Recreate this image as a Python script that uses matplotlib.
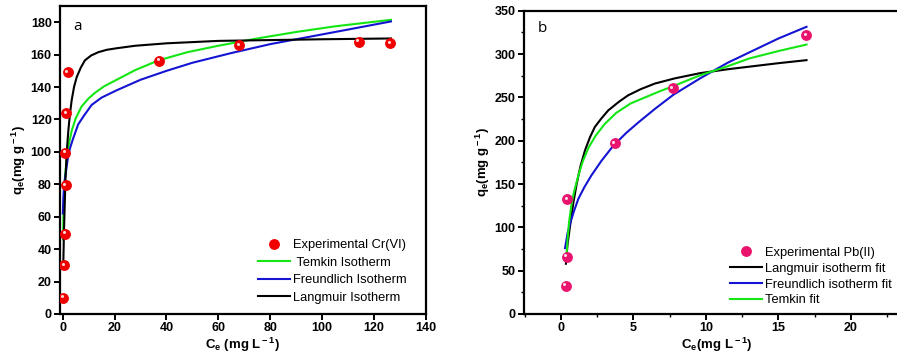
import matplotlib
matplotlib.use("Agg")
import matplotlib.pyplot as plt
from matplotlib.ticker import MultipleLocator
from matplotlib.transforms import offset_copy

plt.rcParams['font.family'] = ['Liberation Sans', 'DejaVu Sans']
plt.rcParams['mathtext.fontset'] = 'custom'
plt.rcParams['mathtext.rm'] = 'Liberation Sans:bold'
plt.rcParams['mathtext.it'] = 'Liberation Sans:bold'
plt.rcParams['mathtext.bf'] = 'Liberation Sans:bold'

# ---- panel a: Cr(VI) ----
cr_ce = [0.3, 0.5, 1.0, 1.2, 1.1, 1.4, 1.9, 37.3, 68.1, 114.1, 126.3]
cr_qe = [10, 30, 49.5, 79.5, 99.5, 124, 149, 156.2, 165.8, 168.1, 167.1]

cr_temkin_c = [0.15, 0.3, 0.6, 1.0, 1.55, 2.3, 3.5, 5, 7.3, 10, 12.5, 16, 20.8,
               28, 37, 48, 60, 75, 90, 105, 126.5]
cr_temkin_q = [46, 60, 75, 86, 95, 104, 113, 120.5, 128, 133, 136.5, 140.5, 144.5,
               150.5, 156.5, 161.5, 165.5, 170, 174, 177.5, 181.5]

cr_freund_c = [0.1, 0.3, 0.6, 1.15, 2, 2.8, 4, 6, 8.5, 11.2, 15, 20.8, 30, 40,
               50, 65, 80, 95, 110, 126.5]
cr_freund_q = [62, 72, 80, 86, 96, 102, 108, 117, 123, 129, 133.5, 138, 144.5, 150,
               155, 161, 166.5, 171, 175.5, 180.5]

cr_lang_c = [0.25, 0.45, 0.65, 0.9, 1.15, 1.6, 2.2, 2.8, 3.5, 4.4, 5.4, 7, 8.6,
             11, 13.7, 17, 21, 28, 40, 60, 80, 100, 126.5]
cr_lang_q = [30, 45, 58, 72, 85, 100, 113, 123, 132, 140, 146, 152, 156.5,
             159.5, 161.5, 163, 164, 165.5, 167, 168.5, 169, 169.5, 170]

# ---- panel b: Pb(II) ----
pb_ce = [0.32, 0.39, 0.44, 3.7, 7.7, 16.9]
pb_qe = [32.7, 66.2, 132.3, 197, 260.4, 321.6]

pb_lang_c = [0.34, 0.45, 0.62, 0.85, 1.08, 1.35, 1.66, 2.0, 2.34, 2.8, 3.26, 4.0,
             4.64, 5.5, 6.48, 7.86, 9.6, 11.5, 13, 15, 16.94]
pb_lang_q = [58, 80, 101, 128, 150, 171, 189, 204, 216, 226, 235, 245,
             252.5, 259.5, 266, 272, 278, 282.5, 285.5, 289.5, 293]

pb_freund_c = [0.28, 0.45, 0.62, 0.9, 1.2, 1.6, 2.1, 2.8, 3.6, 4.5, 5.33, 6.5,
               7.75, 9.6, 11.5, 13, 15, 16.94]
pb_freund_q = [76, 93, 104, 119, 133, 146, 160, 177, 194, 209, 221, 237,
               253, 272, 290, 302, 318, 331.5]

pb_temkin_c = [0.36, 0.45, 0.55, 0.7, 0.9, 1.2, 1.5, 1.9, 2.4, 3.0, 3.8, 4.8,
               5.8, 6.8, 7.75, 8.7, 9.6, 11.5, 13, 15, 16.94]
pb_temkin_q = [62, 85, 105, 124, 141, 160, 176, 192, 206, 219, 232, 243,
               250, 257, 263, 269.5, 275.5, 286, 295, 303.5, 311]

GREEN = '#14e614'
BLUE = '#1414d2'

fig = plt.figure(figsize=(8.97, 3.64), dpi=100)
ax1 = fig.add_axes([0.0669, 0.1374, 0.408, 0.846])
ax2 = fig.add_axes([0.5842, 0.1374, 0.429, 0.833])


def balls(ax, x, y, color, label):
    ax.plot(x, y, 'o', ms=6.8, color=color, mec=color, label=label, zorder=4)
    hl = offset_copy(ax.transData, fig=fig, x=-1.0, y=1.0, units='points')
    ax.plot(x, y, 'o', ms=2.2, color='white', mec='none', alpha=0.85,
            transform=hl, zorder=5)


def style(ax):
    for s in ax.spines.values():
        s.set_linewidth(1.6)
    ax.tick_params(which='major', direction='out', length=4, width=1.4,
                   labelsize=9, pad=2)
    ax.tick_params(which='minor', direction='out', length=2.5, width=1.0)
    for lab in ax.get_xticklabels() + ax.get_yticklabels():
        lab.set_fontweight('bold')


legend_font = {'family': 'Liberation Sans', 'size': 9.3}

# panel a
balls(ax1, cr_ce, cr_qe, '#f00000', 'Experimental Cr(VI)')
ax1.plot(cr_temkin_c, cr_temkin_q, color=GREEN, lw=1.5, label=' Temkin Isotherm')
ax1.plot(cr_freund_c, cr_freund_q, color=BLUE, lw=1.5, label='Freundlich Isotherm')
ax1.plot(cr_lang_c, cr_lang_q, color='black', lw=1.5, label='Langmuir Isotherm')
ax1.set_xlim(-1, 140)
ax1.set_ylim(0, 190)
ax1.xaxis.set_major_locator(MultipleLocator(20))
ax1.yaxis.set_major_locator(MultipleLocator(20))
style(ax1)
ax1.set_xlabel(r'C$_{\rm e}$ (mg L$^{\rm -1}$)', fontsize=9.5, fontweight='bold', labelpad=1)
ax1.set_ylabel(r'q$_{\rm e}$(mg g$^{\rm -1}$)', fontsize=9.5, fontweight='bold', labelpad=2)
ax1.text(0.035, 0.935, 'a', transform=ax1.transAxes, fontsize=11,
         family='Open Sans', va='center', ha='left')
h, l = ax1.get_legend_handles_labels()
ax1.legend(h, l, loc='upper left', bbox_to_anchor=(0.54, 0.243), frameon=False,
           borderpad=0, borderaxespad=0, handlelength=2.5, handletextpad=0.2,
           labelspacing=0.43, prop=legend_font)

# panel b
balls(ax2, pb_ce, pb_qe, '#e8146e', 'Experimental Pb(II)')
ax2.plot(pb_lang_c, pb_lang_q, color='black', lw=1.5, label='Langmuir isotherm fit')
ax2.plot(pb_freund_c, pb_freund_q, color=BLUE, lw=1.5, label='Freundlich isotherm fit')
ax2.plot(pb_temkin_c, pb_temkin_q, color=GREEN, lw=1.5, label='Temkin fit')
ax2.set_xlim(-2.55, 24)
ax2.set_ylim(0, 350)
ax2.xaxis.set_major_locator(MultipleLocator(5))
ax2.xaxis.set_minor_locator(MultipleLocator(2.5))
ax2.yaxis.set_major_locator(MultipleLocator(50))
ax2.yaxis.set_minor_locator(MultipleLocator(25))
style(ax2)
ax2.set_xlabel(r'C$_{\rm e}$(mg L$^{\rm -1}$)', fontsize=9.5, fontweight='bold', labelpad=1)
ax2.set_ylabel(r'q$_{\rm e}$(mg g$^{\rm -1}$)', fontsize=9.5, fontweight='bold', labelpad=2)
ax2.text(0.0345, 0.942, 'b', transform=ax2.transAxes, fontsize=11,
         family='Open Sans', va='center', ha='left')
h, l = ax2.get_legend_handles_labels()
ax2.legend(h, l, loc='upper left', bbox_to_anchor=(0.535, 0.222), frameon=False,
           borderpad=0, borderaxespad=0, handlelength=2.5, handletextpad=0.2,
           labelspacing=0.3, prop=legend_font)

fig.savefig('out.png', dpi=100)
